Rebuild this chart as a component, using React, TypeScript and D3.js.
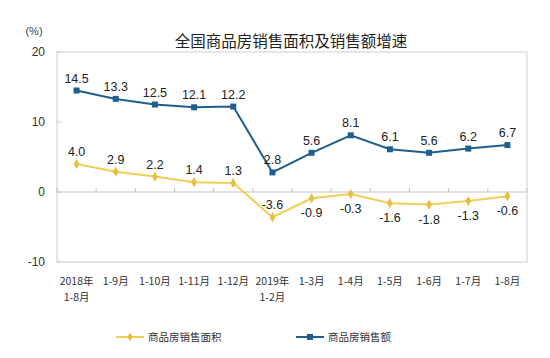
import React from "react";
import * as d3 from "d3";

const categories = ["2018年\n1-8月", "1-9月", "1-10月", "1-11月", "1-12月", "2019年\n1-2月", "1-3月", "1-4月", "1-5月", "1-6月", "1-7月", "1-8月"];
const areaGrowth = [4.0, 2.9, 2.2, 1.4, 1.3, -3.6, -0.9, -0.3, -1.6, -1.8, -1.3, -0.6];
const salesGrowth = [14.5, 13.3, 12.5, 12.1, 12.2, 2.8, 5.6, 8.1, 6.1, 5.6, 6.2, 6.7];
const yTicks = [20, 10, 0, -10];
const seriesNames = ["商品房销售面积", "商品房销售额"];

const W = 550, H = 358;
const left = 57, right = 527, top = 52, bottom = 262;
const blue = "#1f5f8e";
const yellow = "#f0cf55";
const yellowMarker = "#e6c040";
const cjk = "'Noto Sans CJK SC', 'Liberation Sans', sans-serif";
const num = "'Liberation Sans', Arial, sans-serif";

export default function App() {
  const x = d3.scaleBand<number>().domain(d3.range(categories.length)).range([left, right]).padding(0);
  const y = d3.scaleLinear().domain([-10, 20]).range([bottom, top]);
  const cx = (i: number) => (x(i) as number) + x.bandwidth() / 2;
  const line = d3.line<number>().x((_, i) => cx(i)).y((v) => y(v));
  const boundaries = d3.range(categories.length + 1).map((i) => left + i * x.bandwidth());

  return (
    <svg width={W} height={H} style={{ position: "absolute", left: 0, top: 0, background: "#fff" }}>
      <rect x={0} y={0} width={W} height={H} fill="#fff" />
      <text x={34} y={35} fontFamily={num} fontSize={11} fill="#444" textAnchor="middle">(%)</text>
      <text x={291} y={47} fontFamily={cjk} fontSize={15.5} fill="#222" textAnchor="middle">全国商品房销售面积及销售额增速</text>
      <rect x={left} y={top} width={right - left} height={bottom - top} fill="none" stroke="#d6d6d6" strokeWidth={1.2} />
      {yTicks.map((t) => (
        <g key={t}>
          <text x={45} y={y(t) + 4} fontFamily={num} fontSize={12} fill="#333" textAnchor="end">{t}</text>
          <line x1={left} x2={left + 4} y1={y(t)} y2={y(t)} stroke="#c8c8c8" />
        </g>
      ))}
      <line x1={left} x2={right} y1={y(0)} y2={y(0)} stroke="#c4c4c4" strokeWidth={1.2} />
      {boundaries.map((b, i) => (
        <line key={i} x1={b} x2={b} y1={y(0)} y2={y(0) - 4} stroke="#c4c4c4" />
      ))}
      {categories.map((c, i) => (
        <text key={i} fontFamily={cjk} fontSize={10.5} fill="#333" textAnchor="middle">
          {c.split("\n").map((s, j) => (
            <tspan key={j} x={cx(i)} y={285 + j * 16}>{s}</tspan>
          ))}
        </text>
      ))}
      <path d={line(areaGrowth) || ""} fill="none" stroke={yellow} strokeWidth={2} />
      <path d={line(salesGrowth) || ""} fill="none" stroke={blue} strokeWidth={2} />
      {areaGrowth.map((v, i) => (
        <g key={"a" + i}>
          <path d={d3.symbol(d3.symbolDiamond, 30)() || ""} transform={`translate(${cx(i)},${y(v)})`} fill={yellowMarker} />
          <text x={cx(i)} y={v >= 0 || v < -3 ? y(v) - 8 : y(v) + 19} fontFamily={num} fontSize={12.5} fill="#222" textAnchor="middle">{v.toFixed(1)}</text>
        </g>
      ))}
      {salesGrowth.map((v, i) => (
        <g key={"s" + i}>
          <rect x={cx(i) - 3} y={y(v) - 3} width={6} height={6} fill={blue} />
          <text x={cx(i)} y={y(v) - 8} fontFamily={num} fontSize={12.5} fill="#222" textAnchor="middle">{v.toFixed(1)}</text>
        </g>
      ))}
      <g>
        <line x1={116} x2={144} y1={337} y2={337} stroke={yellow} strokeWidth={2} />
        <path d={d3.symbol(d3.symbolDiamond, 24)() || ""} transform="translate(130,337)" fill={yellowMarker} />
        <text x={148} y={341} fontFamily={cjk} fontSize={10.5} fill="#333">{seriesNames[0]}</text>
        <line x1={296} x2={324} y1={337} y2={337} stroke={blue} strokeWidth={2} />
        <rect x={307} y={334} width={6} height={6} fill={blue} />
        <text x={328} y={341} fontFamily={cjk} fontSize={10.5} fill="#333">{seriesNames[1]}</text>
      </g>
    </svg>
  );
}
